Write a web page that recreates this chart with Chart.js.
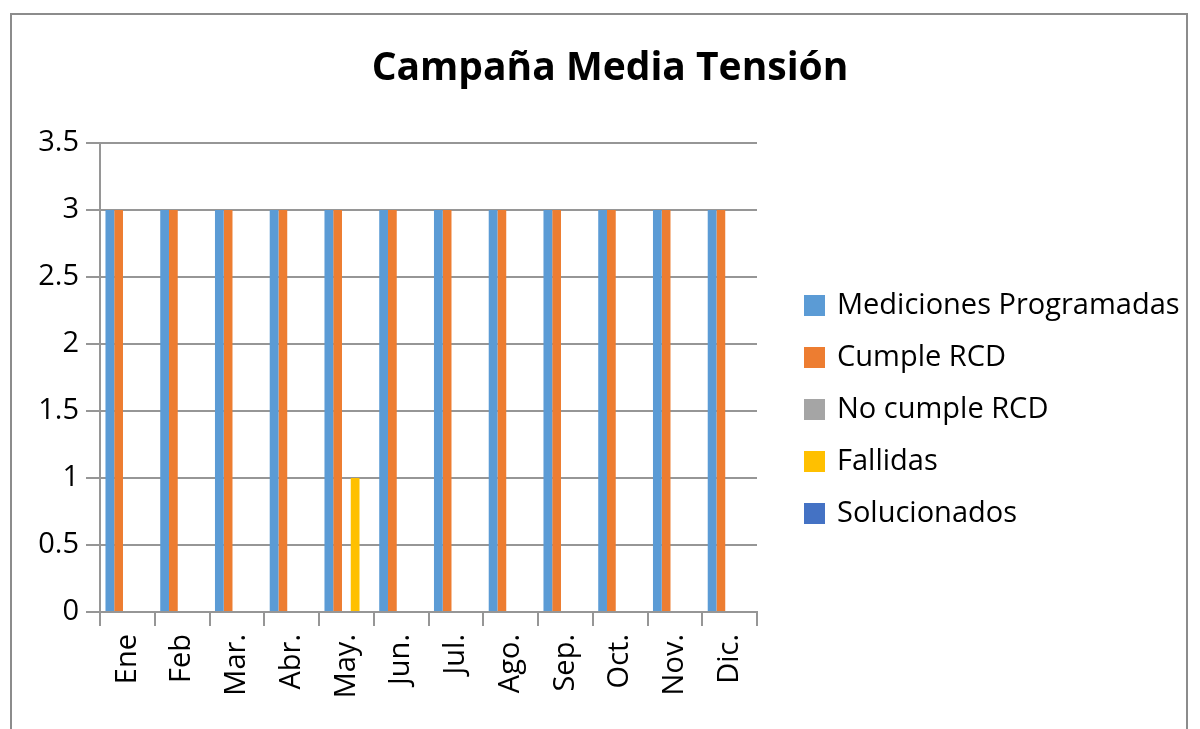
<!DOCTYPE html>
<html>
<head>
<meta charset="utf-8">
<script src="https://cdn.jsdelivr.net/npm/chart.js@4"></script>
<style>
html,body{margin:0;padding:0;background:#fff;overflow:hidden;}
#wrap{position:relative;width:1200px;height:729px;}
#frame{position:absolute;left:10px;top:13px;width:1178px;height:800px;border:2px solid #8c8c8c;box-sizing:border-box;}
canvas{position:absolute;left:0;top:0;}
</style>
</head>
<body>
<div id="wrap">
<div id="frame"></div>
<canvas id="chart" width="1200" height="729"></canvas>
</div>
<script>
// Campaña Media Tensión

var meses = ["Ene","Feb","Mar.","Abr.","May.","Jun.","Jul.","Ago.","Sep.","Oct.","Nov.","Dic."];

var programadas = [3,3,3,3,3,3,3,3,3,3,3,3];
var cumple = [3,3,3,3,3,3,3,3,3,3,3,3];
var noCumple = [0,0,0,0,0,0,0,0,0,0,0,0];
var fallidas = [0,0,0,0,1,0,0,0,0,0,0,0];
var solucionados = [0,0,0,0,0,0,0,0,0,0,0,0];

var titulo = "Campaña Media Tensión";
var fuente = "'Open Sans', sans-serif";
var gris = "#969696";

// title and legend drawn by hand so they sit where Excel put them
var textos = {
id:"textos",
afterDraw:function(chart){
var ctx = chart.ctx;
ctx.save();
ctx.fillStyle = "#000";
ctx.font = "bold 39px " + fuente;
ctx.textAlign = "center";
ctx.textBaseline = "middle";
ctx.fillText(titulo, 610, 69);

ctx.font = "29px " + fuente;
ctx.textAlign = "left";
chart.data.datasets.forEach(function(ds, i){
var y = 305 + i*52;
ctx.fillStyle = ds.backgroundColor;
ctx.fillRect(804, y-10, 21, 21);
ctx.fillStyle = "#000";
ctx.fillText(ds.label, 837, y+1);
});
ctx.restore();
}
};

new Chart(
document.getElementById("chart"),
{
type:"bar",

data:{
labels:meses,

datasets:[
{label:"Mediciones Programadas", data:programadas, backgroundColor:"#5B9BD5"},
{label:"Cumple RCD", data:cumple, backgroundColor:"#ED7D31"},
{label:"No cumple RCD", data:noCumple, backgroundColor:"#A5A5A5"},
{label:"Fallidas", data:fallidas, backgroundColor:"#FFC000"},
{label:"Solucionados", data:solucionados, backgroundColor:"#4472C4"}
]
},

options:{
responsive:false,
animation:false,
layout:{padding:{left:10, right:443, top:143, bottom:0}},
datasets:{bar:{categoryPercentage:0.8, barPercentage:1, borderWidth:0}},
plugins:{
legend:{display:false},
title:{display:false},
tooltip:{enabled:false}
},
scales:{
x:{
grid:{drawOnChartArea:false, tickLength:14, color:gris, lineWidth:2},
border:{color:gris, width:2},
ticks:{color:"#000", font:{family:fuente, size:29}, minRotation:90, maxRotation:90, padding:8},
afterFit:function(s){ s.height = 117; }
},
y:{
min:0,
max:3.5,
ticks:{stepSize:0.5, color:"#000", font:{family:fuente, size:29}, padding:7,
callback:function(v){ return String(v); }},
grid:{color:gris, lineWidth:2, tickLength:14},
border:{color:gris, width:2},
afterFit:function(s){ s.width = 90; }
}
}
},

plugins:[textos]
}
);
</script>
</body>
</html>
